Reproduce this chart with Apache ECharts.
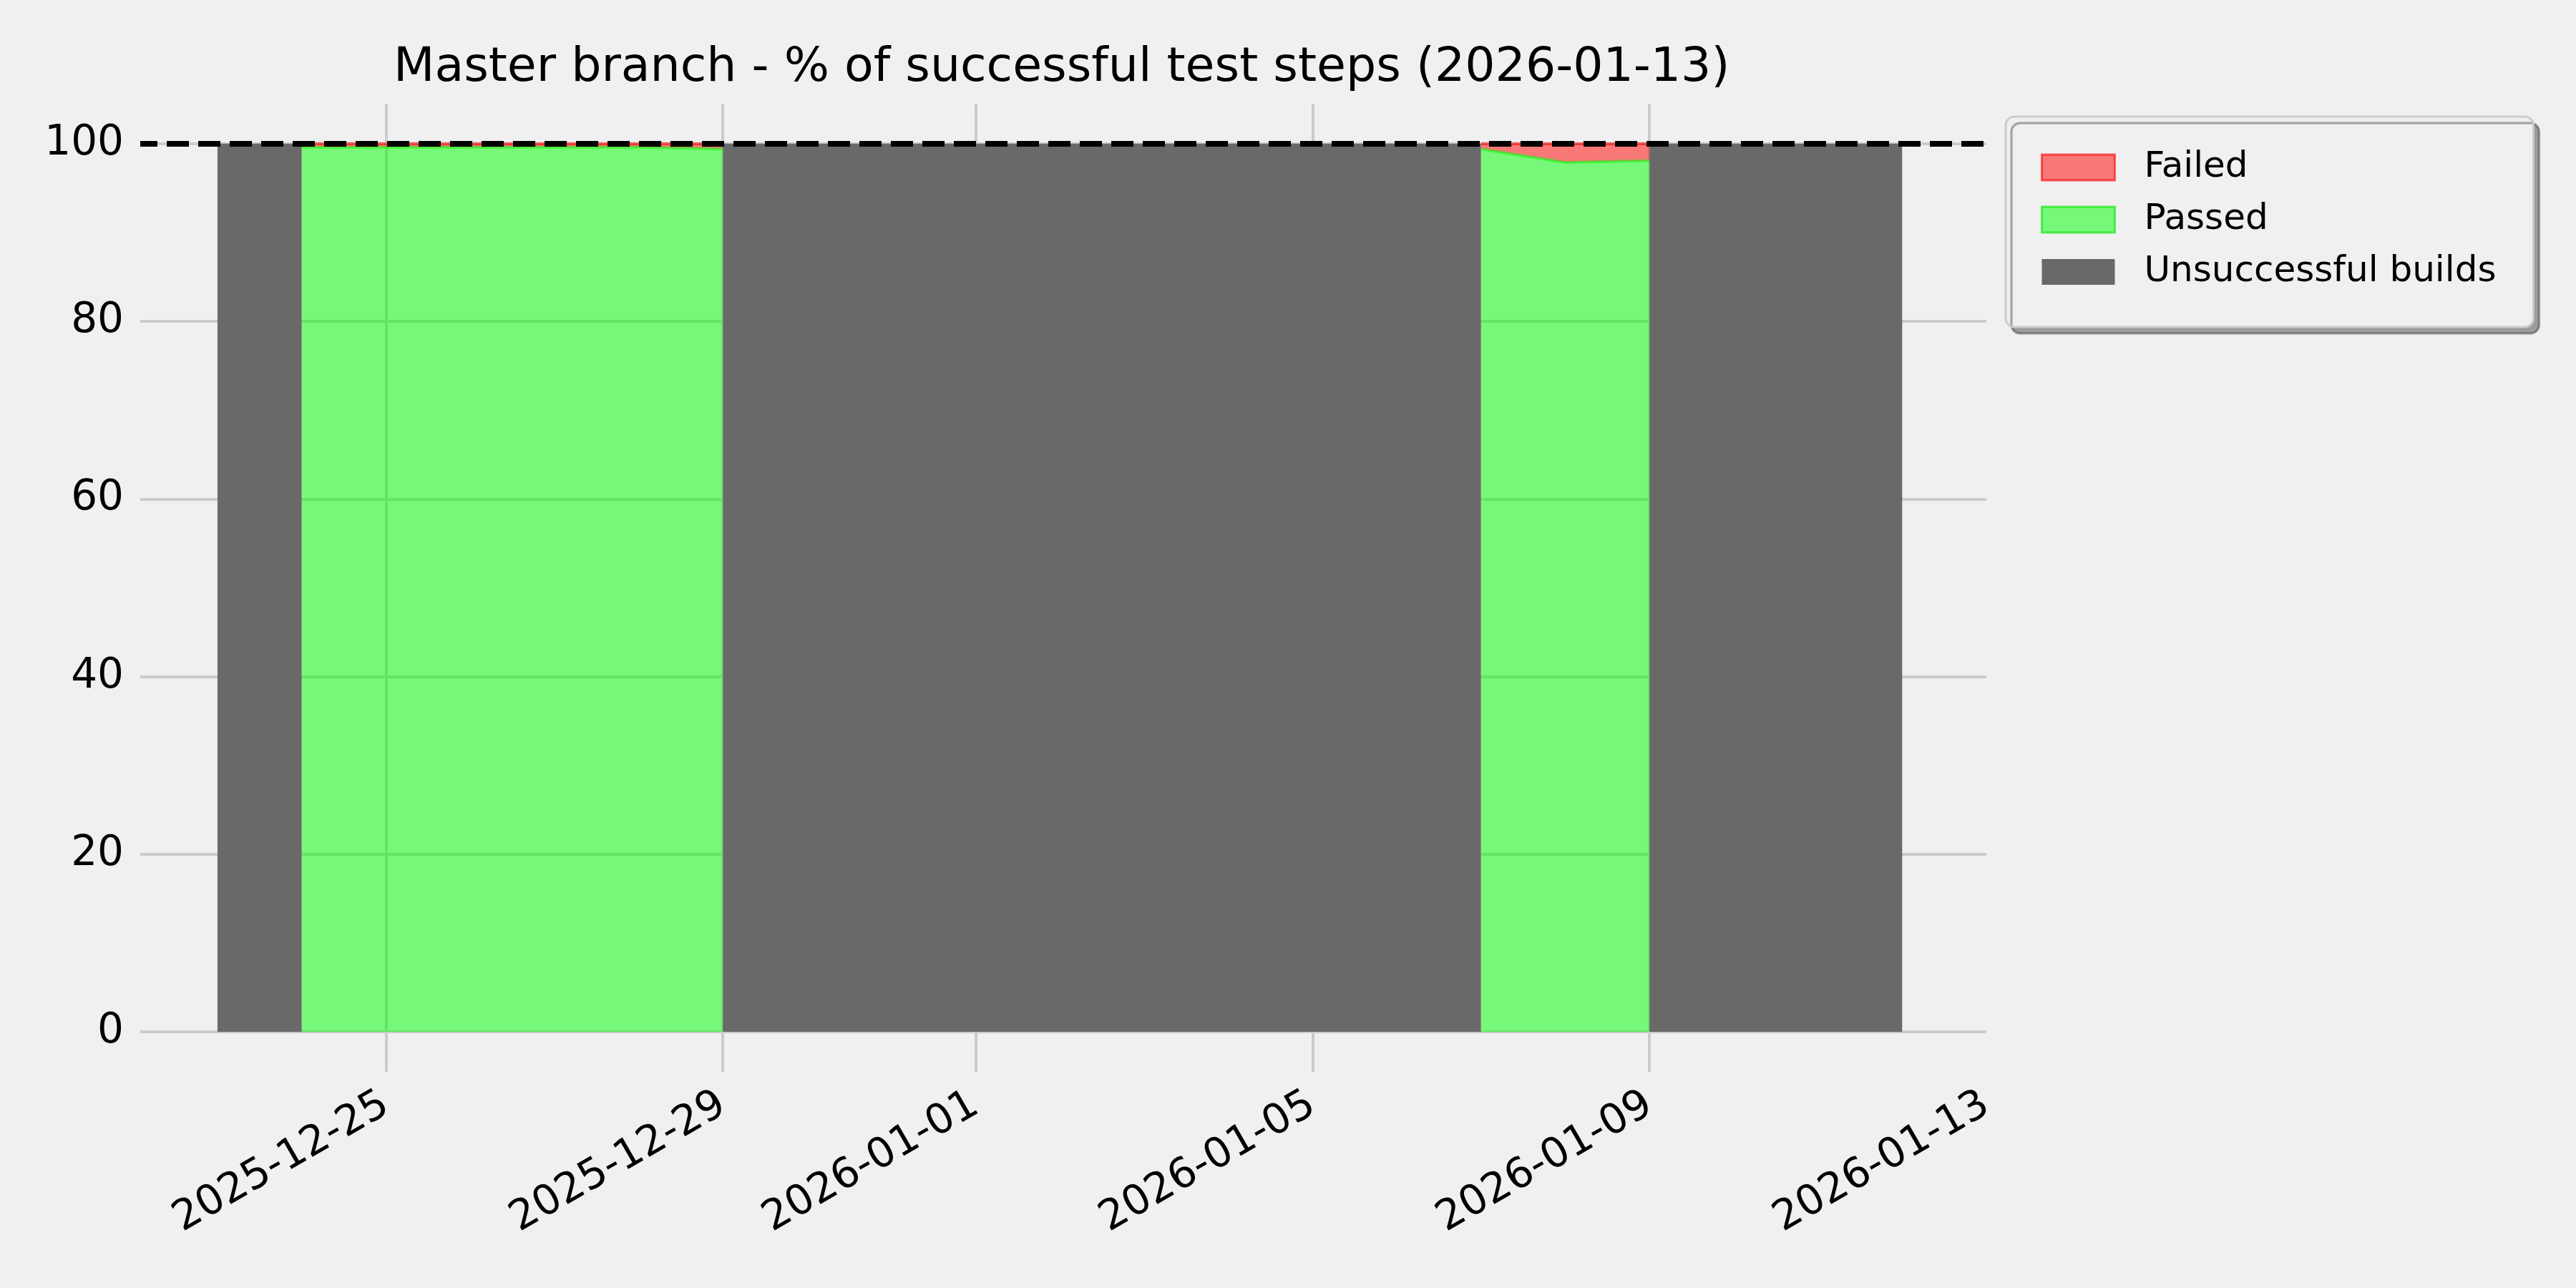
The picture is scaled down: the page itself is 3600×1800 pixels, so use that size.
<!DOCTYPE html>
<html>
<head>
<meta charset="utf-8">
<title>Master branch - % of successful test steps</title>
<script src="https://cdn.jsdelivr.net/npm/echarts@6/dist/echarts.min.js"></script>
<style>
  html, body { margin: 0; padding: 0; background: #f0f0f0; }
  #chart { width: 3600px; height: 1800px; }
</style>
</head>
<body>
<div id="chart"></div>
<script>
// one entry per day, null = no test results that day
const days = [
  '2025-12-23', '2025-12-24', '2025-12-25', '2025-12-26', '2025-12-27', '2025-12-28', '2025-12-29',
  '2025-12-30', '2025-12-31', '2026-01-01', '2026-01-02', '2026-01-03', '2026-01-04', '2026-01-05',
  '2026-01-06', '2026-01-07', '2026-01-08', '2026-01-09', '2026-01-10', '2026-01-11', '2026-01-12'
]
const passed = [
  null, 99.6, 99.6, 99.6, 99.6, 99.6, 99.4,
  null, null, null, null, null, null, null,
  null, 99.4, 97.9, 98.1, null, null, null
]
const failed = [
  null, 0.4, 0.4, 0.4, 0.4, 0.4, 0.6,
  null, null, null, null, null, null, null,
  null, 0.6, 2.1, 1.9, null, null, null
]
const unsuccessful = [
  100, 0, 0, 0, 0, 0, 100,
  100, 100, 100, 100, 100, 100, 100,
  100, 0, 0, 100, 100, 100, 0
]
const xTickLabels = ['2025-12-25', '2025-12-29', '2026-01-01', '2026-01-05', '2026-01-09', '2026-01-13']
const yTickLabels = [0, 20, 40, 60, 80, 100]

const FONT = 'DejaVu Sans'
const GRID_COLOR = '#cbcbcb'

const toTime = (s) => new Date(s + 'T00:00:00').getTime()
const pairs = (values) => days.map((d, i) => [toTime(d), values[i]])

const xMin = new Date('2025-12-22T02:00:00').getTime()
const xMax = toTime('2026-01-13')
const xTicks = xTickLabels.map(toTime)
// the last label sits on the very edge of the axes: matplotlib draws no tick/grid line there
const xTickMarks = xTicks.filter((t) => t < xMax)

const chart = echarts.init(document.getElementById('chart'))

const option = {
  backgroundColor: '#f0f0f0',
  animation: false,
  title: {
    text: 'Master branch - % of successful test steps (2026-01-13)',
    left: 545,
    top: 57,
    textStyle: { fontFamily: FONT, fontSize: 66.5, fontWeight: 'normal', color: '#000' }
  },
  legend: {
    orient: 'vertical',
    left: 2803,
    top: 163,
    icon: 'rect',
    itemWidth: 102,
    itemHeight: 36,
    itemGap: 23,
    padding: [46, 52, 52, 49],
    backgroundColor: '#f0f0f0',
    borderColor: '#cccccc',
    borderWidth: 3,
    borderRadius: 12,
    shadowColor: 'rgba(0,0,0,0.35)',
    shadowBlur: 1,
    shadowOffsetX: 8,
    shadowOffsetY: 9,
    textStyle: {
      fontFamily: FONT,
      fontSize: 50,
      lineHeight: 50,
      color: '#000',
      padding: [0, 0, 0, 36]
    },
    data: [
      { name: 'Failed', itemStyle: { color: 'rgba(255,0,0,0.5)', borderColor: 'rgba(255,0,0,0.6)', borderWidth: 3 } },
      { name: 'Passed', itemStyle: { color: 'rgba(0,255,0,0.5)', borderColor: 'rgba(0,230,0,0.6)', borderWidth: 3 } },
      { name: 'Unsuccessful builds', itemStyle: { color: '#696969' } }
    ]
  },
  grid: {
    left: 196,
    right: 824,
    top: 145,
    bottom: 358,
    outerBoundsMode: 'none'
  },
  xAxis: [
    {
      // time axis carrying the series (so the stack works on the y values)
      type: 'time',
      min: xMin,
      max: xMax,
      show: false
    },
    {
      // same range as a value axis, only for the matplotlib-style date ticks
      type: 'value',
      position: 'bottom',
      min: xMin,
      max: xMax,
      axisLine: { show: false },
      axisTick: {
        show: true,
        customValues: xTickMarks,
        length: 56,
        lineStyle: { color: GRID_COLOR, width: 4 }
      },
      axisLabel: {
        customValues: xTicks,
        rotate: 30,
        margin: 98,
        fontFamily: FONT,
        fontSize: 58,
        color: '#000',
        formatter: (value) => echarts.time.format(value, '{yyyy}-{MM}-{dd}', false)
      },
      splitLine: { show: true, lineStyle: { color: GRID_COLOR, width: 4 } }
    }
  ],
  yAxis: {
    type: 'value',
    min: 0,
    max: 104.5,
    axisLine: { show: false },
    axisTick: { show: false, customValues: yTickLabels },
    axisLabel: {
      customValues: yTickLabels,
      margin: 23,
      fontFamily: FONT,
      fontSize: 58,
      color: '#000'
    },
    splitLine: { show: true, lineStyle: { color: GRID_COLOR, width: 4 } }
  },
  series: [
    {
      name: 'Passed',
      type: 'line',
      stack: 'steps',
      data: pairs(passed),
      showSymbol: false,
      z: 2,
      itemStyle: { color: 'rgba(0,255,0,0.5)' },
      lineStyle: { color: 'rgba(0,255,0,0.5)', width: 4 },
      areaStyle: { color: 'rgba(0,255,0,0.5)', opacity: 1 },
      emphasis: { disabled: true }
    },
    {
      name: 'Failed',
      type: 'line',
      stack: 'steps',
      data: pairs(failed),
      showSymbol: false,
      z: 2,
      itemStyle: { color: 'rgba(255,0,0,0.5)' },
      lineStyle: { color: 'rgba(255,0,0,0.5)', width: 4 },
      areaStyle: { color: 'rgba(255,0,0,0.5)', opacity: 1 },
      emphasis: { disabled: true }
    },
    {
      name: 'Unsuccessful builds',
      type: 'line',
      step: 'end',
      data: pairs(unsuccessful),
      showSymbol: false,
      z: 3,
      itemStyle: { color: '#696969' },
      lineStyle: { width: 0, opacity: 0 },
      areaStyle: { color: '#696969', opacity: 1 },
      emphasis: { disabled: true },
      markLine: {
        silent: true,
        symbol: ['none', 'none'],
        label: { show: false },
        lineStyle: { color: '#000', width: 8, type: [31, 13], dashOffset: 7, opacity: 1 },
        data: [{ yAxis: 100 }]
      }
    }
  ]
}

chart.setOption(option)

window.addEventListener('resize', () => chart.resize())
</script>
</body>
</html>
